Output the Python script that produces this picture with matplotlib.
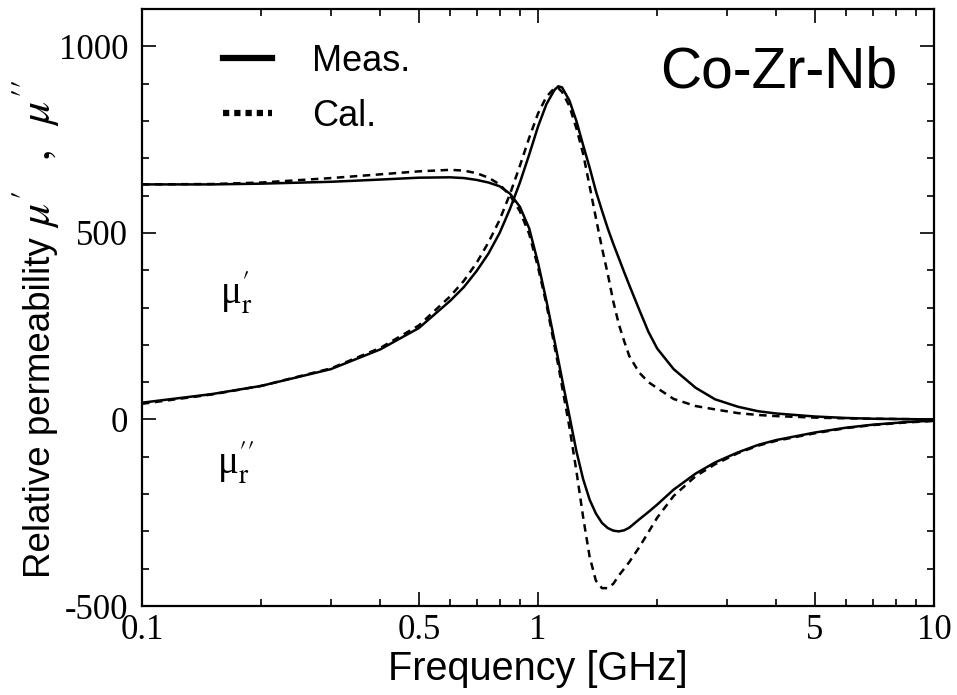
import numpy as np
import matplotlib
matplotlib.use("Agg")
import matplotlib.pyplot as plt
from matplotlib.lines import Line2D
from matplotlib.ticker import FixedLocator, NullFormatter, MultipleLocator

# frequency [GHz] and read-off values of the permeability curves
freq = [0.1, 0.15, 0.2, 0.3, 0.4, 0.5, 0.6, 0.65, 0.7, 0.75, 0.8, 0.85, 0.9, 0.95,
        1.0, 1.05, 1.1, 1.125, 1.15, 1.2, 1.25, 1.3, 1.35, 1.4, 1.45, 1.5, 1.55,
        1.6, 1.65, 1.7, 1.8, 1.9, 2.0, 2.2, 2.5, 2.8, 3.2, 3.6, 4.0, 5.0, 6.0,
        7.0, 8.5, 10.0]
mu_re_meas = [630, 630, 632, 637, 643, 648, 649, 647, 642, 635, 625, 605, 570, 512,
              420, 318, 212, 160, 108, 10, -85, -160, -215, -252, -277, -291, -298,
              -300, -297, -290, -268, -248, -228, -188, -145, -115, -88, -68, -55, -35, -22,
              -14, -7, -3]
mu_re_cal = [630, 631, 635, 647, 657, 665, 669, 667, 660, 648, 630, 600, 558, 497,
             408, 309, 198, 145, 88, -20, -138, -262, -368, -432, -452, -452, -440,
             -418, -400, -382, -343, -302, -263, -205, -152, -120, -90, -70, -57, -37, -23,
             -15, -8, -4]
mu_im_meas = [45, 68, 90, 135, 188, 245, 318, 355, 398, 445, 500, 565, 635, 710,
              785, 845, 883, 893, 890, 855, 800, 735, 675, 612, 560, 512, 470,
              432, 395, 360, 295, 235, 190, 135, 85, 54, 34, 22, 16, 8, 4,
              2, 1, 0]
mu_im_cal = [42, 67, 90, 137, 192, 252, 330, 372, 420, 475, 535, 605, 680, 755,
             820, 865, 888, 888, 878, 840, 780, 712, 625, 540, 460, 390, 315,
             255, 210, 170, 126, 100, 84, 55, 36, 27, 17, 12, 9, 5, 3,
             2, 1, 0]

plt.rcParams['mathtext.fontset'] = 'stix'
plt.rcParams['axes.unicode_minus'] = False
serif = 'Liberation Serif'
sans = 'Liberation Sans'

fig = plt.figure(figsize=(9.57, 6.95), dpi=100)
ax = fig.add_axes([0.1484, 0.128, 0.8276, 0.859])

lw = 1.8
dash = (3, 2.2)
ax.plot(freq, mu_re_meas, color='k', lw=lw)
ax.plot(freq, mu_im_meas, color='k', lw=lw)
ax.plot(freq, mu_re_cal, color='k', lw=lw, ls=(0, dash))
ax.plot(freq, mu_im_cal, color='k', lw=lw, ls=(0, dash))

ax.set_xscale('log')
ax.set_xlim(0.1, 10)
ax.set_ylim(-500, 1100)

xmaj = [0.1, 0.5, 1, 5, 10]
ax.xaxis.set_major_locator(FixedLocator(xmaj))
ax.set_xticklabels(['0.1', '0.5', '1', '5', '10'])
xmin = [0.2, 0.3, 0.4, 0.6, 0.7, 0.8, 0.9, 2, 3, 4, 6, 7, 8, 9]
ax.xaxis.set_minor_locator(FixedLocator(xmin))
ax.xaxis.set_minor_formatter(NullFormatter())
ax.set_yticks([-500, 0, 500, 1000])
ax.yaxis.set_minor_locator(MultipleLocator(100))

ax.tick_params(which='both', direction='in', top=True, right=True, width=1.2)
ax.tick_params(which='major', length=10)
ax.tick_params(which='minor', length=5)
ax.tick_params(axis='x', which='major', pad=6)
ax.tick_params(axis='y', which='major', pad=10)
for lab in ax.get_xticklabels() + ax.get_yticklabels():
    lab.set_fontfamily(serif)
    lab.set_fontsize(25)
for sp in ax.spines.values():
    sp.set_linewidth(1.6)

ax.set_xlabel('Frequency [GHz]', fontfamily=sans, fontsize=28.5, labelpad=2)
# y label in two parts: sans text + italic mu symbols
fig.text(0.0525, 0.168, 'Relative permeability', rotation=90, rotation_mode='anchor',
         ha='left', va='baseline', fontfamily=sans, fontsize=26.5)
fig.text(0.0525, 0.672, "$\\mu'\\;\\;\\;,\\;\\;\\mu''$", rotation=90, rotation_mode='anchor',
         ha='left', va='baseline', fontsize=33)

ax.text(0.804, 0.894, 'Co-Zr-Nb', transform=ax.transAxes, fontfamily=sans,
        fontsize=41, ha='center', va='center')
ax.text(0.1726, 340, "μ$_{\\mathrm{r}}^{\\prime}$", fontfamily=serif, fontsize=28, ha='center', va='center')
ax.text(0.1726, -115, "μ$_{\\mathrm{r}}^{\\prime\\prime}$", fontfamily=serif, fontsize=28, ha='center', va='center')

handles = [Line2D([], [], color='k', lw=4.5),
           Line2D([], [], color='k', lw=4.5, ls=(0, (1.0, 0.8)))]
ax.legend(handles, ['Meas.', 'Cal.'], loc='upper left', bbox_to_anchor=(0.066, 0.99),
          frameon=False, prop={'family': sans, 'size': 26}, handlelength=1.35,
          handletextpad=1.1, labelspacing=0.55, borderaxespad=0.4)

fig.savefig('out.png', dpi=100)
